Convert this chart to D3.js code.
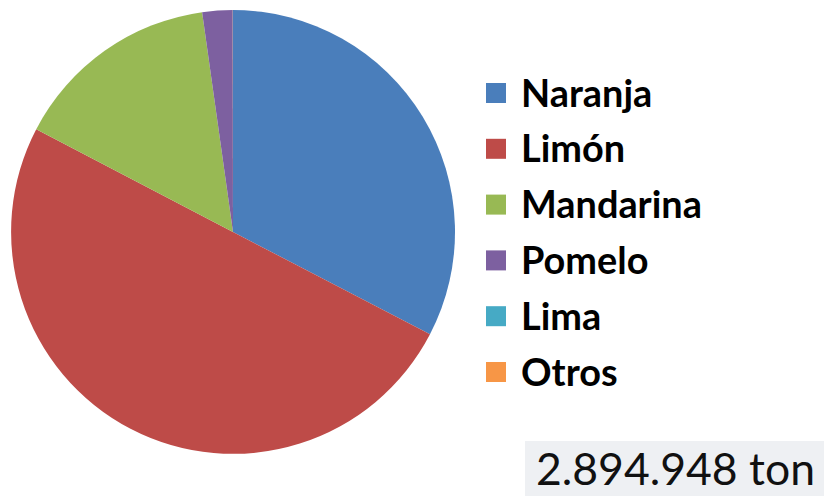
<!DOCTYPE html>
<html>
<head>
<meta charset="utf-8">
<script src="https://cdn.jsdelivr.net/npm/d3@7"></script>
<style>
  html, body { margin: 0; padding: 0; background: #ffffff; }
  svg { display: block; }
</style>
</head>
<body>
<svg id="chart" width="824" height="496"></svg>
<script>
const categories = ["Naranja", "Limón", "Mandarina", "Pomelo", "Lima", "Otros"];
const values = [32.6, 50.0, 15.1, 2.2, 0.01, 0.01];
const colors = ["#4a7ebb", "#be4b48", "#98b954", "#7d60a0", "#46aac5", "#f79646"];
const totalLabel = "2.894.948 ton";

const svg = d3.select("#chart");
const W = 824, H = 496;
svg.append("rect").attr("width", W).attr("height", H).attr("fill", "#ffffff");

const cx = 233, cy = 232, r = 222;
const data = categories.map((c, i) => ({ name: c, value: values[i], color: colors[i] }));

const pie = d3.pie().value(d => d.value).sort(null);
const arc = d3.arc().innerRadius(0).outerRadius(r);

svg.append("g")
  .attr("transform", `translate(${cx},${cy})`)
  .selectAll("path")
  .data(pie(data))
  .join("path")
  .attr("d", arc)
  .attr("fill", d => d.data.color);

// Legend
const legY0 = 93, legStep = 55.8;
const legend = svg.append("g");
const rows = legend.selectAll("g").data(data).join("g")
  .attr("transform", (d, i) => `translate(486,${legY0 + i * legStep})`);
rows.append("rect")
  .attr("x", 0).attr("y", -10).attr("width", 20).attr("height", 20)
  .attr("fill", d => d.color);
const legText = rows.append("text")
  .attr("x", 35).attr("y", 0).attr("dy", "0.36em")
  .attr("font-family", "Lato, 'Open Sans', sans-serif")
  .attr("font-weight", "bold")
  .attr("font-size", 28)
  .attr("fill", "#000")
  .text(d => d.name);
// fit legend font so "Mandarina" ≈ 181px wide
const mNode = legText.filter(d => d.name === "Mandarina").node();
const mW = mNode.getComputedTextLength();
legText.attr("font-size", 28 * 181 / mW);

// Total label box
svg.append("rect")
  .attr("x", 525).attr("y", 441).attr("width", W - 525).attr("height", H - 441)
  .attr("fill", "#eef0f3");
const tot = svg.append("text")
  .attr("x", 536).attr("y", 485)
  .attr("font-family", "Lato, 'Open Sans', sans-serif")
  .attr("font-size", 44)
  .attr("fill", "#111")
  .text(totalLabel);
const tw = tot.node().getComputedTextLength();
tot.attr("font-size", 44 * 279 / tw);
</script>
</body>
</html>
